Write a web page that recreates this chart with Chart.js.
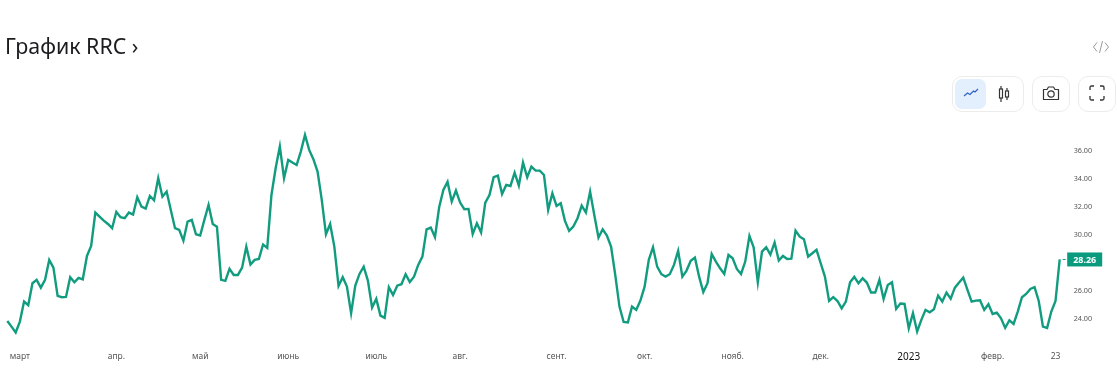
<!DOCTYPE html>
<html lang="ru">
<head>
<meta charset="utf-8">
<title>График RRC</title>
<script src="https://cdn.jsdelivr.net/npm/chart.js@4/dist/chart.umd.min.js"></script>
<style>
  html, body { margin: 0; padding: 0; background: #fff; overflow: hidden; }
  #wrap { position: relative; width: 1117px; height: 374px; }
  #title { position: absolute; left: 5px; top: 31px; font: 21.4px/30px "Noto Sans", sans-serif; color: #1c1c20; white-space: nowrap; }
  .box { position: absolute; top: 76px; height: 34px; border: 1px solid #ececec; border-radius: 10px; background: #fff; }
  .box svg, #embed { position: absolute; }
  #active { position: absolute; left: 2px; top: 2px; width: 31px; height: 30px; border-radius: 7px; background: #e3effd; }
</style>
</head>
<body>
<div id="wrap">
  <canvas id="rrc-chart" width="1117" height="374"></canvas>
  <div id="title">График RRC ›</div>

  <svg id="embed" style="left:1092px;top:38px" width="18" height="18" viewBox="0 0 18 18" fill="none" stroke="#9a9a9a" stroke-width="1">
    <path d="M5 4.5L1.5 9L5 13.5M13 4.5L16.5 9L13 13.5M10.5 3L7.5 15"/>
  </svg>

  <div class="box" style="left:952px;width:70px">
    <div id="active"></div>
    <svg style="left:10px;top:9px" width="16" height="14" viewBox="0 0 16 14" fill="none" stroke="#2f62c9" stroke-width="1.2">
      <path d="M1 10L4.5 7L7 8.5L10.5 5L12 6L15 3"/>
    </svg>
    <svg style="left:44px;top:8px" width="14" height="18" viewBox="0 0 14 18" fill="none" stroke="#333" stroke-width="1.2">
      <path d="M4 1V17M10 3V15"/><rect x="2.5" y="4" width="3" height="9" fill="#fff"/><rect x="8.5" y="6" width="3" height="6" fill="#fff"/>
    </svg>
  </div>
  <div class="box" style="left:1032px;width:36px">
    <svg style="left:9px;top:8px" width="18" height="16" viewBox="0 0 18 16" fill="none" stroke="#333" stroke-width="1.2">
      <path d="M1.5 4.5H5L6.5 2H11.5L13 4.5H16.5V14.5H1.5Z" stroke-linejoin="round"/><circle cx="9" cy="9" r="3.2"/>
    </svg>
  </div>
  <div class="box" style="left:1078px;width:36px">
    <svg style="left:10px;top:8px" width="16" height="16" viewBox="0 0 16 16" fill="none" stroke="#333" stroke-width="1.3">
      <path d="M1 5V2.5Q1 1 2.5 1H5M11 1H13.5Q15 1 15 2.5V5M15 11V13.5Q15 15 13.5 15H11M5 15H2.5Q1 15 1 13.5V11"/>
    </svg>
  </div>
</div>

<script>
// Цены закрытия RRC
const closeValues = [
  23.89, 23.49, 23.07, 23.85, 25.27, 25.01, 26.57, 26.81, 26.26, 26.81, 28.23, 27.68, 25.67, 25.58, 25.60, 27.00,
  26.64, 26.95, 26.85, 28.51, 29.22, 31.59, 31.30, 31.02, 30.78, 30.48, 31.64, 31.26, 31.19, 31.59, 31.45, 32.68,
  32.01, 31.87, 32.77, 32.46, 34.03, 32.72, 33.08, 31.78, 30.48, 30.36, 29.60, 30.95, 31.07, 30.05, 29.96, 31.07,
  32.13, 30.78, 30.59, 26.81, 26.74, 27.59, 27.16, 27.16, 27.68, 29.17, 27.90, 28.23, 28.30, 29.32, 29.08, 32.84,
  34.74, 36.28, 34.03, 35.33, 35.14, 34.97, 35.92, 37.10, 36.04, 35.38, 34.50, 32.49, 30.05, 30.78, 29.17, 26.38,
  27.00, 26.33, 24.44, 26.40, 27.23, 27.75, 26.76, 24.84, 25.46, 24.27, 24.11, 26.29, 25.74, 26.40, 26.50, 27.21,
  26.66, 27.04, 27.87, 28.46, 30.40, 30.52, 29.84, 31.97, 33.20, 33.77, 32.37, 33.15, 32.30, 31.83, 31.85, 30.07,
  30.83, 30.17, 32.30, 32.84, 34.10, 34.22, 32.91, 33.55, 33.48, 34.43, 33.51, 35.14, 34.10, 34.86, 34.57, 34.57,
  34.26, 31.78, 32.96, 32.06, 32.25, 31.00, 30.29, 30.59, 31.19, 32.09, 31.59, 33.08, 31.42, 29.81, 30.40, 29.96,
  29.17, 27.16, 24.91, 23.82, 23.78, 24.91, 24.68, 25.34, 26.33, 28.23, 29.13, 27.75, 27.21, 27.04, 27.21, 27.87,
  28.87, 27.04, 27.47, 28.16, 28.39, 27.04, 25.95, 26.57, 28.65, 28.11, 27.63, 27.23, 28.58, 28.35, 27.59, 27.23,
  28.11, 29.93, 29.13, 26.64, 28.82, 29.13, 28.61, 29.46, 28.18, 28.51, 28.30, 28.32, 30.31, 29.88, 29.69, 28.46,
  28.70, 28.94, 27.99, 27.04, 25.31, 25.58, 25.31, 24.79, 25.27, 26.64, 27.02, 26.57, 26.92, 26.62, 25.91, 25.91,
  26.81, 25.46, 26.45, 26.64, 24.75, 25.13, 25.10, 23.37, 24.44, 23.14, 23.97, 24.68, 24.51, 24.72, 25.69, 25.27,
  25.91, 25.48, 26.26, 26.62, 26.97, 26.10, 25.27, 25.34, 25.36, 24.68, 25.08, 24.39, 24.49, 24.08, 23.40, 23.94,
  23.68, 24.56, 25.58, 25.81, 26.17, 26.29, 25.31, 23.49, 23.40, 24.56, 25.31, 28.26
];

// Подписи оси времени и номера точек, на которых они стоят
const tickLabels = ['март', 'апр.', 'май', 'июнь', 'июль', 'авг.', 'сент.', 'окт.', 'нояб.', 'дек.', '2023', 'февр.', '23'];
const tickIndexes = [3, 26, 46, 67, 88, 108, 131, 152, 173, 194, 215, 235, 250];
const priceTicks = [24, 26, 28, 30, 32, 34, 36];

const lineColor = '#129c7f';
const lastPrice = closeValues[closeValues.length - 1];

const categories = closeValues.map(function(v, i) {
  const pos = tickIndexes.indexOf(i);
  return pos >= 0 ? tickLabels[pos] : '';
});

// Зелёная плашка с последней ценой справа
const lastPricePlugin = {
  id: 'lastPrice',
  afterDraw(chart) {
    const ctx = chart.ctx;
    const y = chart.scales.y.getPixelForValue(lastPrice);
    const left = chart.chartArea.right;
    ctx.save();
    ctx.fillStyle = '#0a9a7d';
    ctx.fillRect(left + 7.5, y - 7, 35, 14);
    ctx.strokeStyle = '#0a9a7d';
    ctx.beginPath();
    ctx.moveTo(left + 3, y);
    ctx.lineTo(left + 6, y);
    ctx.stroke();
    ctx.fillStyle = '#fff';
    ctx.font = 'bold 9px "Noto Sans", sans-serif';
    ctx.textBaseline = 'middle';
    ctx.textAlign = 'center';
    ctx.fillText(lastPrice.toFixed(2), left + 25, y + 0.5);
    ctx.restore();
  }
};

new Chart(document.getElementById('rrc-chart'), {
  type: 'line',
  data: {
    labels: categories,
    datasets: [{
      label: 'RRC',
      data: closeValues,
      borderColor: lineColor,
      borderWidth: 2.4,
      pointRadius: 0,
      tension: 0,
      clip: false,
      fill: false
    }]
  },
  options: {
    responsive: false,
    animation: false,
    layout: { padding: { left: 7.3, top: 125, right: 0, bottom: 0 } },
    plugins: { legend: { display: false }, tooltip: { enabled: false } },
    scales: {
      x: {
        offset: false,
        grid: { display: false, drawTicks: false },
        border: { display: false },
        afterFit(scale) {
          scale.height = 34;
          // pas de marge pour la première étiquette, la ligne doit partir du bord
          scale.paddingLeft = 0;
          scale.paddingRight = 0;
        },
        ticks: {
          autoSkip: false,
          maxRotation: 0,
          padding: 11,
          color: function(c) { return c.tick.label === '2023' ? '#111' : '#555'; },
          font: function(c) {
            return c.tick.label === '2023'
              ? { family: 'Noto Sans', size: 10, weight: 'normal' }
              : { family: 'Noto Sans', size: 8.5 };
          }
        }
      },
      y: {
        position: 'right',
        min: 22.54,
        max: 37.81,
        grid: { display: false, drawTicks: false },
        border: { display: false },
        afterFit(scale) { scale.width = 57.3; },
        afterBuildTicks(scale) { scale.ticks = priceTicks.map(function(v) { return { value: v }; }); },
        ticks: {
          padding: 14,
          color: '#555',
          font: { family: 'Noto Sans', size: 7.2 },
          callback: function(value) { return Number(value).toFixed(2); }
        }
      }
    }
  },
  plugins: [lastPricePlugin]
});
</script>
</body>
</html>
